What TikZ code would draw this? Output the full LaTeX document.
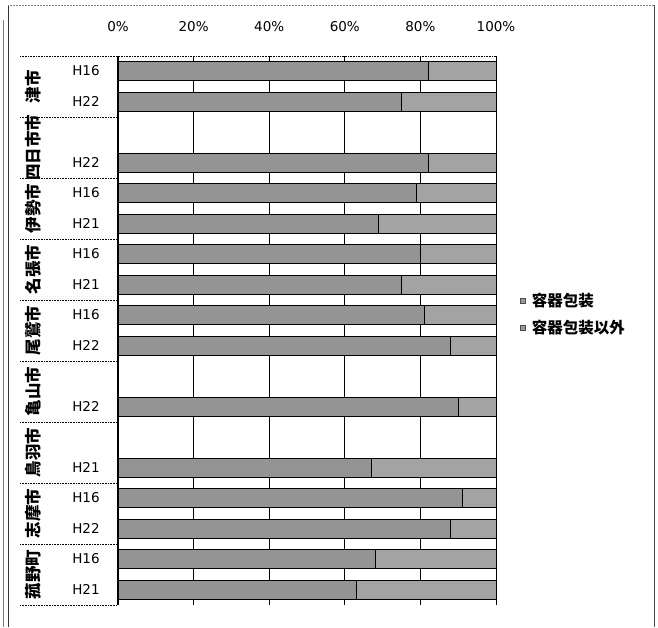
\documentclass[tikz,border=0pt]{standalone}
\usepackage{fontspec}
\setsansfont{DejaVu Sans}
\newfontfamily\jp{Noto Sans CJK JP}
\usetikzlibrary{positioning}

\tikzset{
  grid line/.style={black, line width=0.7pt},
  sep line/.style={black, densely dotted, line width=0.6pt},
  part a/.style={draw=black, fill=black!42, line width=0.8pt},
  part b/.style={draw=black, fill=black!36, line width=0.8pt},
  year label/.style={font=\sffamily\fontsize{13.5}{13.5}\selectfont},
  tick label/.style={font=\sffamily\fontsize{13.5}{13.5}\selectfont},
  town label/.style={font=\jp\bfseries\fontsize{16.5}{16.5}\selectfont, rotate=90, inner sep=0pt},
  key box/.style={draw=black!70, fill=black!40, minimum size=5pt, inner sep=0pt},
  key text/.style={font=\jp\bfseries\fontsize{15.5}{15.5}\selectfont, anchor=west, inner sep=0pt},
}

\begin{document}
\begin{tikzpicture}[x=1pt, y=-1pt]
	\useasboundingbox (0,0) rectangle (658,627);
	% frame
	\draw[gray, line width=0.5pt] (3,20) -- (3,627);
	\draw[black!80, line width=0.8pt] (8,5) -- (8,627);
	\draw[gray, densely dotted, line width=0.5pt] (8,5) -- (654,5);
	\draw[black!70, line width=0.8pt] (654,5) -- (654,627);
	% grid and scale
	\foreach \k/\t in {0/0\%, 1/20\%, 2/40\%, 3/60\%, 4/80\%, 5/100\%} {
		\node[tick label] (tick\k) at ({118+75.6*\k},27) {\t};
		\draw[grid line] ({118+75.6*\k},56) -- ({118+75.6*\k},605);
	}
	% category table
	\draw[sep line] (20,56) -- (496,56);
	\foreach \g in {1,...,9}
		\draw[sep line] (20,{56+61*\g}) -- (117,{56+61*\g});
	\draw[black, line width=0.7pt] (117,56) -- (117,605);
	% bars
	\foreach \i/\yr/\p in {0/H16/82, 1/H22/75, 3/H22/82, 4/H16/79, 5/H21/69,
		6/H16/80, 7/H21/75, 8/H16/81, 9/H22/88, 11/H22/90, 13/H21/67,
		14/H16/91, 15/H22/88, 16/H16/68, 17/H21/63} {
		\pgfmathsetmacro\yc{71+30.5*\i}
		\pgfmathsetmacro\xs{118+3.78*\p}
		\draw[part a] (118,{\yc-9.5}) rectangle (\xs,{\yc+9.5});
		\draw[part b] (\xs,{\yc-9.5}) rectangle (496,{\yc+9.5});
		\node[year label] (yr\i) at (86,\yc) {\yr};
	}
	% towns
	\foreach \g/\town in {0/津市, 1/四日市市, 2/伊勢市, 3/名張市, 4/尾鷲市,
		5/亀山市, 6/鳥羽市, 7/志摩市, 8/菰野町}
		\node[town label] (town\g) at (33,{86.5+61*\g}) {\town};
	% legend
	\node[key box] (keyA) at (523,301) {};
	\node[key text, right=6pt of keyA] (textA) {容器包装};
	\node[key box] (keyB) at (523,328) {};
	\node[key text, right=6pt of keyB] (textB) {容器包装以外};
\end{tikzpicture}
\end{document}
